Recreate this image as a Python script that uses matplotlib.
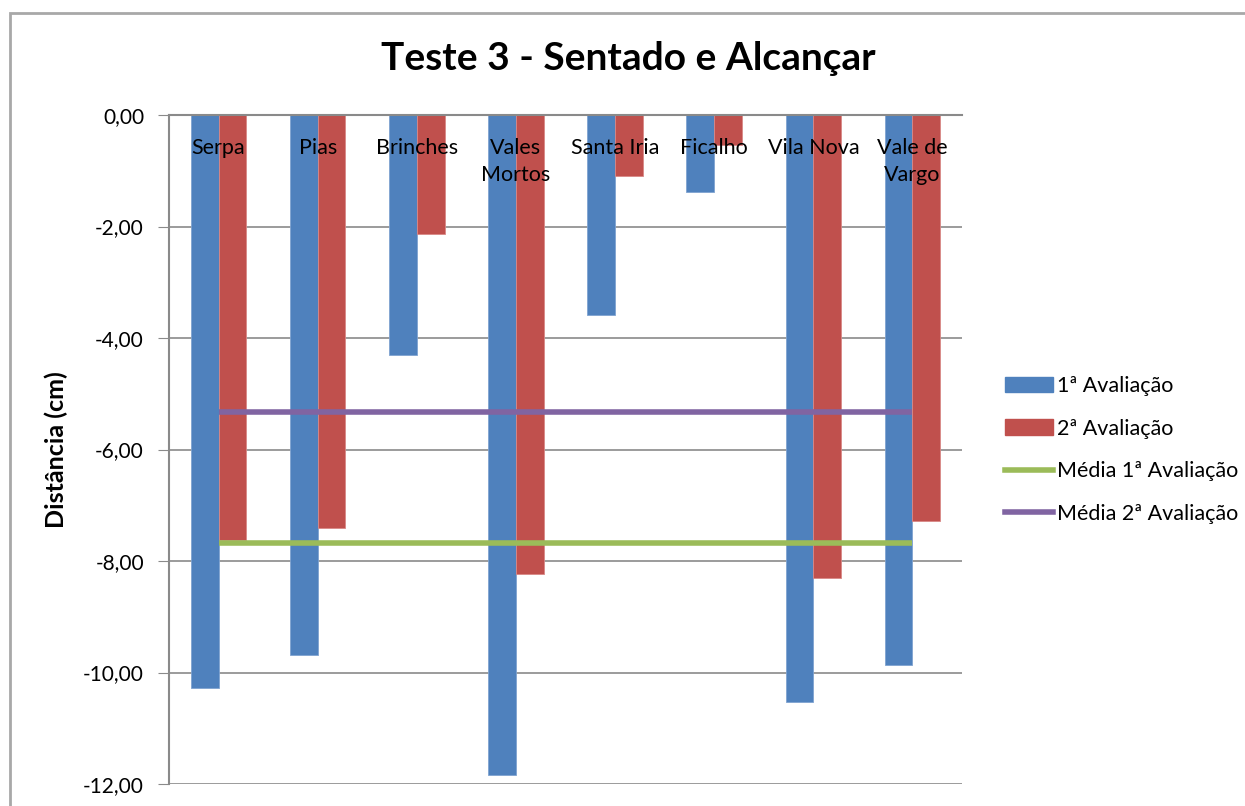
import matplotlib.pyplot as plt
from matplotlib.patches import Rectangle
from matplotlib.lines import Line2D
from matplotlib.patches import Patch

plt.rcParams['font.family'] = ['Lato', 'DejaVu Sans']

# data
categories = ['Serpa', 'Pias', 'Brinches', 'Vales\nMortos', 'Santa Iria',
              'Ficalho', 'Vila Nova', 'Vale de\nVargo']
aval1 = [-10.28, -9.69, -4.30, -11.84, -3.59, -1.38, -10.53, -9.87]
aval2 = [-7.63, -7.41, -2.13, -8.23, -1.09, -0.54, -8.30, -7.28]
media1 = sum(aval1) / len(aval1)
media2 = sum(aval2) / len(aval2)
yticks = [0, -2, -4, -6, -8, -10, -12]

blue = '#4F81BD'
red = '#C0504D'
green = '#9BBB59'
purple = '#8064A2'
grid = '#8a8a8a'

W, H = 1245, 806
fig = plt.figure(figsize=(W / 100, H / 100), dpi=100)
ax = fig.add_axes([169 / W, 1 - 784 / H, (962 - 169) / W, (784 - 115) / H])

# chart-area border like Excel
fig.patches.append(Rectangle((10 / W, -0.1), 1.2, 1 - 13 / H + 0.1,
                             transform=fig.transFigure, fill=False,
                             edgecolor='#a8a8a8', linewidth=2))

x = list(range(len(categories)))
bw = 0.28
ax.bar([i - bw / 2 for i in x], aval1, width=bw, color=blue, zorder=2,
       edgecolor='#7fa3d0', linewidth=0.6)
ax.bar([i + bw / 2 for i in x], aval2, width=bw, color=red, zorder=2,
       edgecolor='#d98886', linewidth=0.6)
ax.plot([x[0], x[-1]], [media1, media1], color=green, linewidth=4,
        zorder=3, solid_capstyle='butt')
ax.plot([x[0], x[-1]], [media2, media2], color=purple, linewidth=4,
        zorder=3, solid_capstyle='butt')

ax.set_xlim(-0.5, len(categories) - 0.5)
ax.set_ylim(-12, 0)
ax.set_yticks(yticks)
ax.set_yticklabels([f'{v:.2f}'.replace('.', ',') for v in yticks],
                   fontsize=15)
ax.tick_params(axis='y', length=8, color=grid, pad=10)
ax.set_xticks([])
ax.yaxis.grid(True, color=grid, linewidth=1.2, zorder=0)
ax.set_axisbelow(True)
for s in ['right', 'bottom']:
    ax.spines[s].set_visible(False)
ax.spines['left'].set_color(grid)
ax.spines['left'].set_linewidth(1.5)
ax.spines['top'].set_color(grid)
ax.spines['top'].set_linewidth(1.5)

for i, c in enumerate(categories):
    ax.annotate(c, (i, 0), xytext=(0, -23), textcoords='offset pixels',
                ha='center', va='top', fontsize=15.5, linespacing=1.45,
                zorder=4)

ax.set_ylabel('Distância (cm)', fontsize=18, fontweight='bold', labelpad=11)
fig.text(628 / W, 1 - 58 / H, 'Teste 3 - Sentado e Alcançar',
         ha='center', va='center', fontsize=28, fontweight='bold')

handles = [Patch(color=blue), Patch(color=red),
           Line2D([], [], color=green, linewidth=4),
           Line2D([], [], color=purple, linewidth=4)]
labels = ['1ª Avaliação', '2ª Avaliação', 'Média 1ª Avaliação',
          'Média 2ª Avaliação']
fig.legend(handles, labels, loc='center left',
           bbox_to_anchor=(986 / W, 1 - 450 / H), frameon=False,
           fontsize=15.5, handlelength=2.2, handleheight=0.75,
           handletextpad=0.2, labelspacing=1.05)

fig.savefig('out.png', dpi=100, facecolor='white')
